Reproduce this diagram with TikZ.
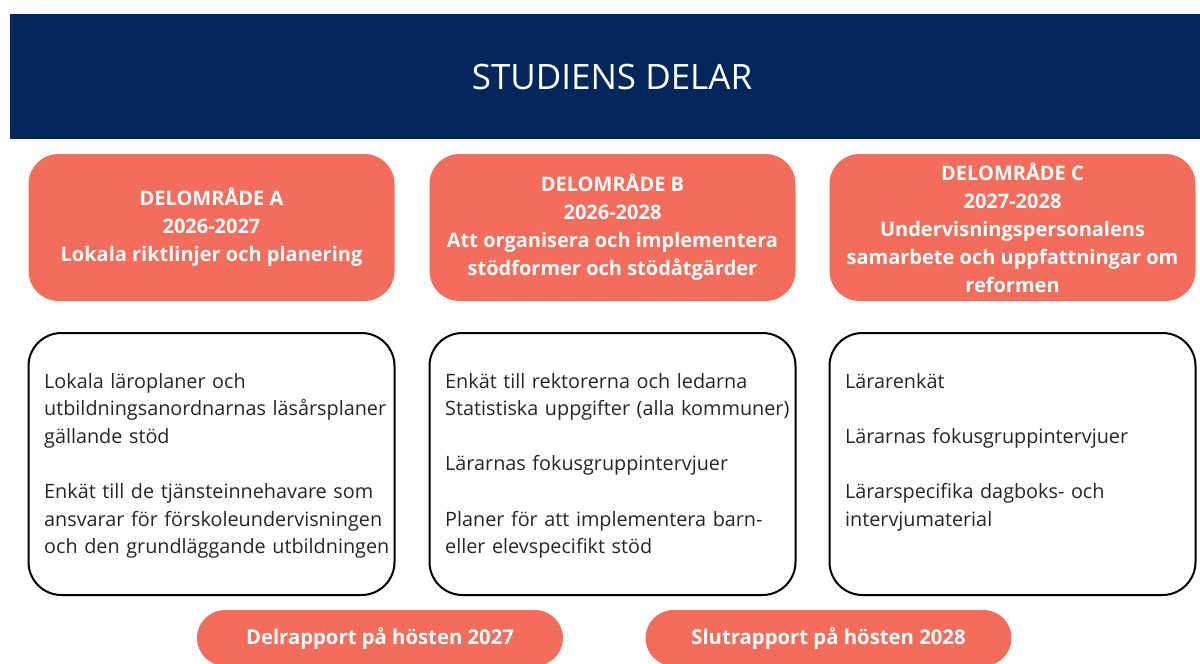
\documentclass[tikz,border=0pt]{standalone}
\usepackage{fontspec}
\setmainfont{Open Sans}
\usetikzlibrary{positioning}
\definecolor{navy}{HTML}{03275A}
\definecolor{coral}{HTML}{F26D5B}
\tikzset{
  area/.style={fill=coral, rounded corners=30pt, minimum width=366pt, minimum height=147pt,
    text=white, font=\bfseries\fontsize{20}{28}\selectfont, align=center, inner sep=0pt},
  listbox/.style={draw=black, line width=2pt, rounded corners=33pt, minimum width=366pt,
    minimum height=262pt, fill=white},
  listtext/.style={anchor=base west, text width=352pt, align=left, inner sep=0pt,
    font=\fontsize{19.8}{27.6}\selectfont, text=black!85},
  report/.style={fill=coral, rounded corners=28pt, minimum width=366pt, minimum height=56pt,
    text=white, font=\bfseries\fontsize{20.3}{24}\selectfont, inner sep=0pt},
}
\begin{document}
\begin{tikzpicture}[x=1pt, y=-1pt]
        \clip (0,0) rectangle (1200,664);

        % banner
        \node (banner) [fill=navy, minimum width=1190pt, minimum height=125pt, inner sep=0pt] at (605,76.5) {};
        \node (title) [text=white, font=\fontsize{35}{40}\selectfont] at (612,77) {STUDIENS DELAR};

        % delområden
        \node (areaA) [area] at (211.5,227.5) {DELOMRÅDE A\\2026-2027\\Lokala riktlinjer och planering};
        \node (areaB) [area] at (612.5,227.5) {DELOMRÅDE B\\2026-2028\\Att organisera och implementera\\stödformer och stödåtgärder};
        \node (areaC) [area] at (1012.5,227.5) {DELOMRÅDE C\\2027-2028\\Undervisningspersonalens\\samarbete och uppfattningar om\\reformen};

        % material
        \node (boxA) [listbox] at (211.5,464) {};
        \node (boxB) [listbox] at (612.5,464) {};
        \node (boxC) [listbox] at (1012.5,464) {};

        \node (textA) [listtext] at (44,388) {Lokala läroplaner och\\utbildningsanordnarnas läsårsplaner\\gällande stöd\\[27.6pt]Enkät till de tjänsteinnehavare som\\ansvarar för förskoleundervisningen\\och den grundläggande utbildningen};
        \node (textB) [listtext] at (445,388) {Enkät till rektorerna och ledarna\\Statistiska uppgifter (alla kommuner)\\[27.6pt]Lärarnas fokusgruppintervjuer\\[27.6pt]Planer för att implementera barn-\\eller elevspecifikt stöd};
        \node (textC) [listtext] at (845,388) {Lärarenkät\\[27.6pt]Lärarnas fokusgruppintervjuer\\[27.6pt]Lärarspecifika dagboks- och\\intervjumaterial};

        % rapporter
        \node (report1) [report] at (380,638) {Delrapport på hösten 2027};
        \node (report2) [report] at (828.5,638) {Slutrapport på hösten 2028};
    \end{tikzpicture}
\end{document}
